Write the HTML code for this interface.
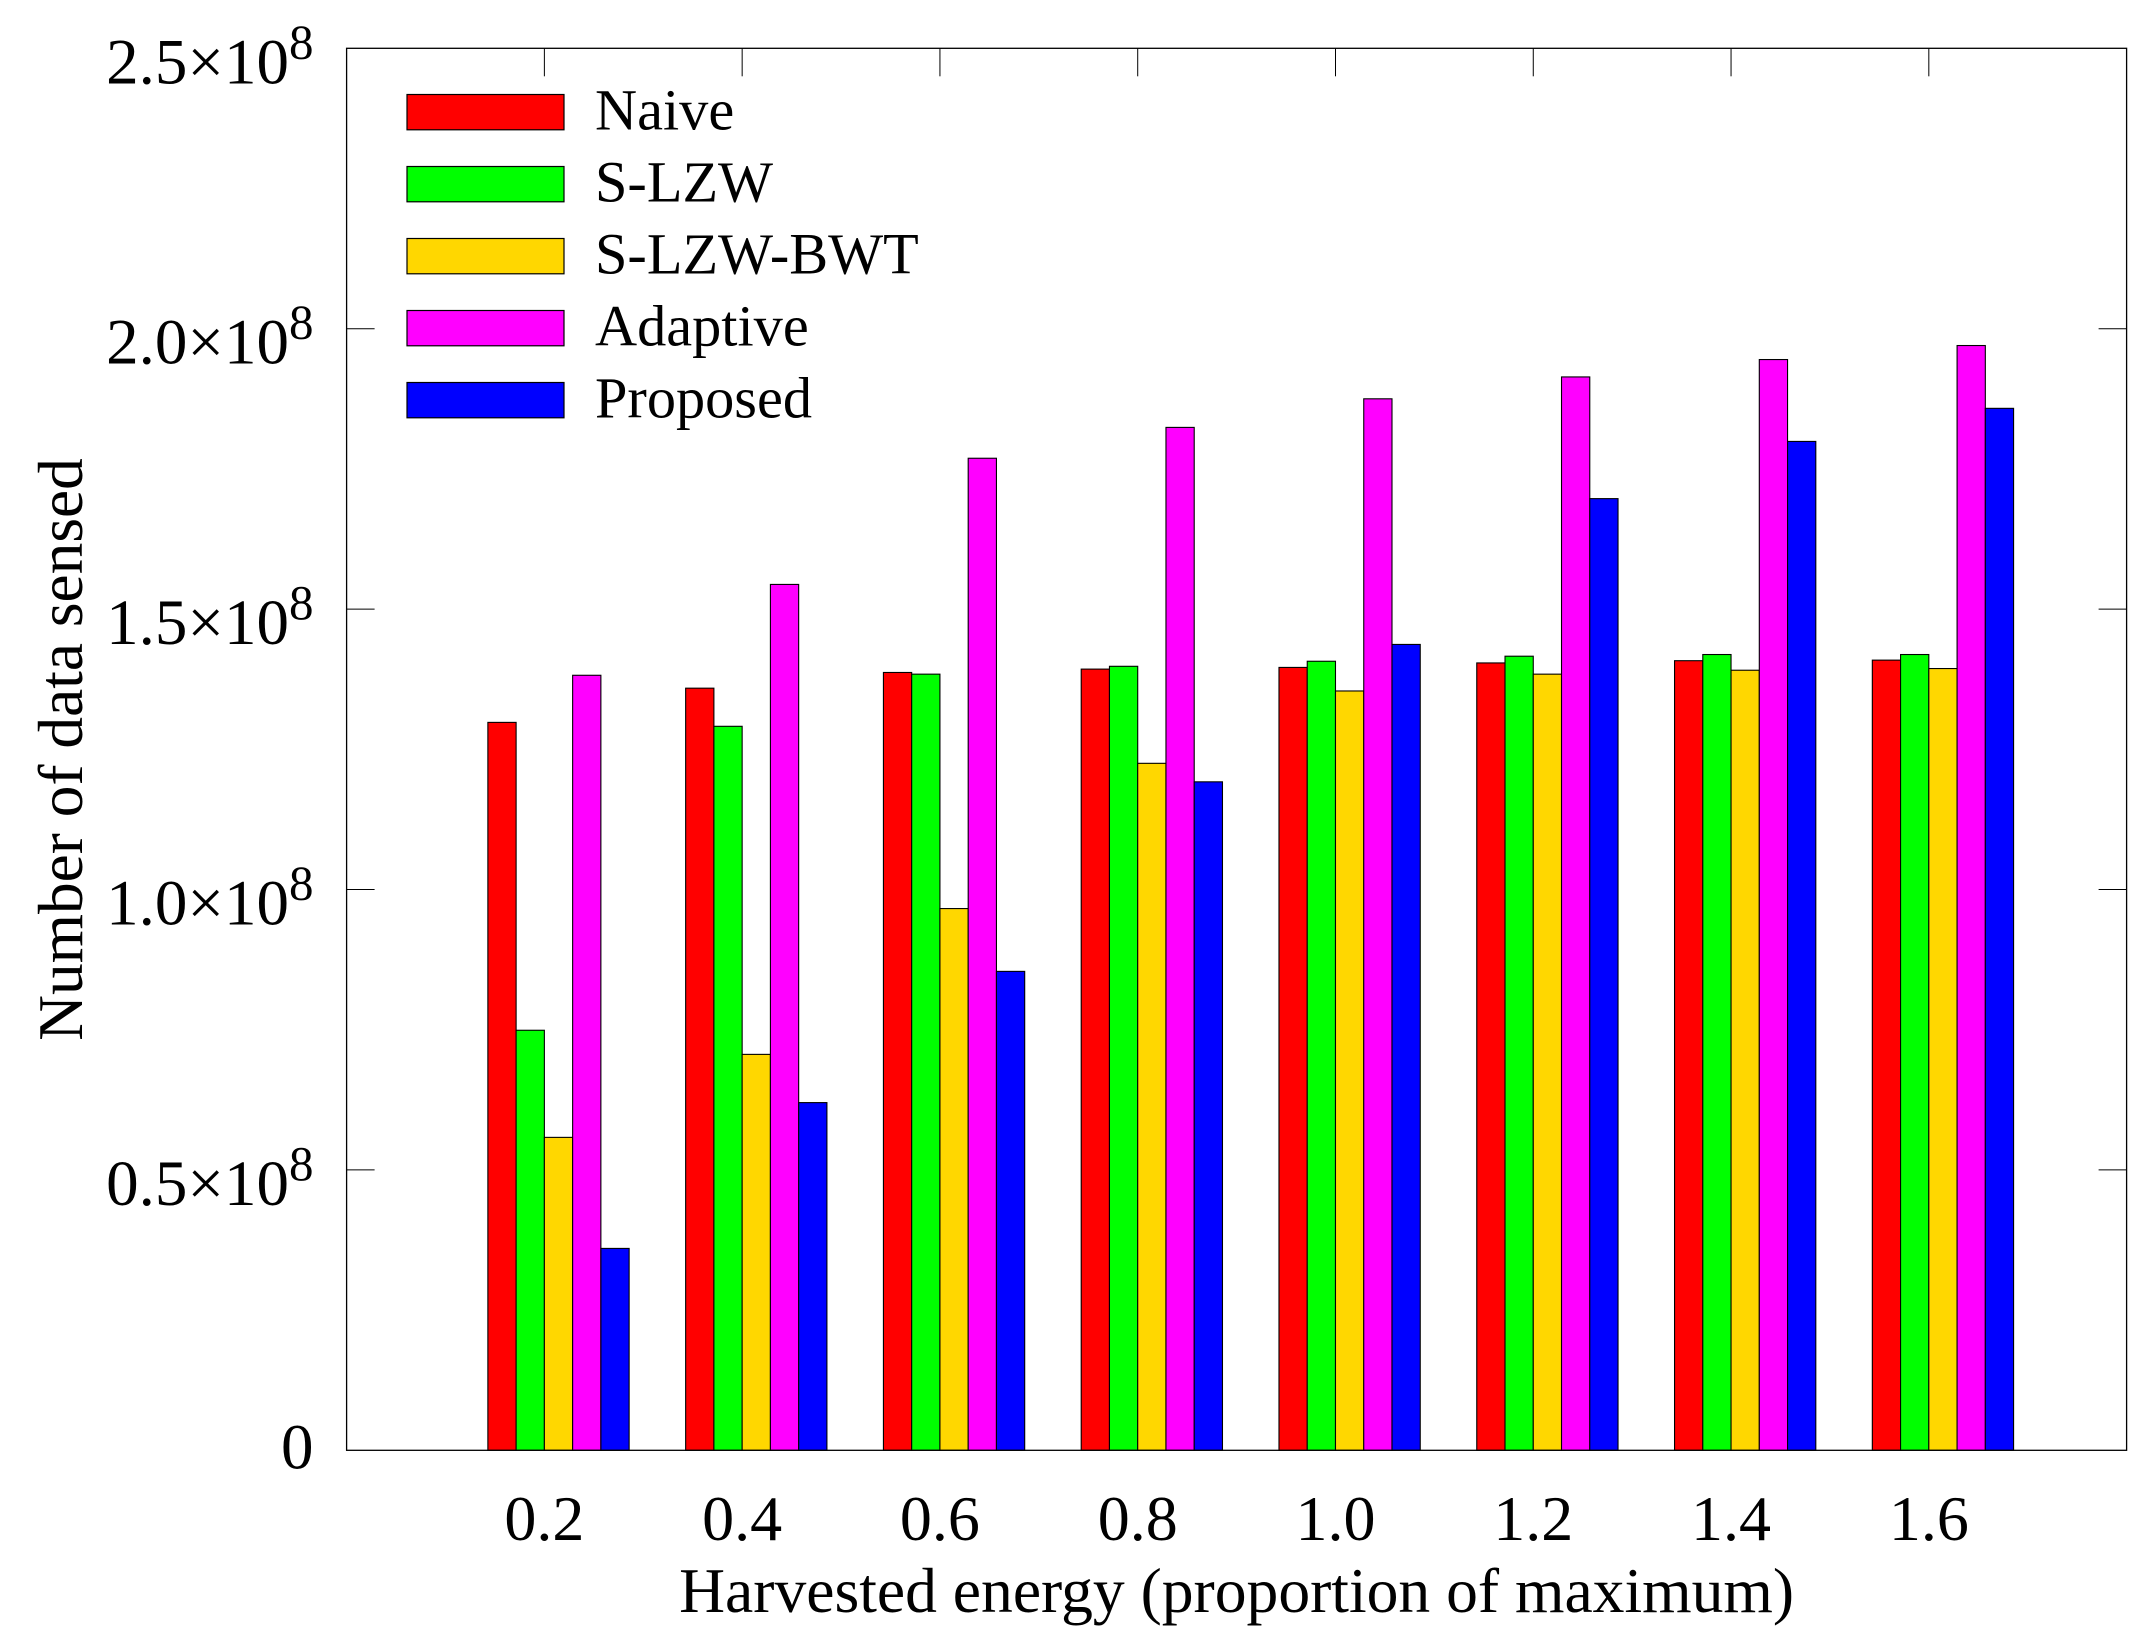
<!DOCTYPE html>
<html lang="en">
<head>
<meta charset="utf-8">
<title>Number of data sensed vs harvested energy</title>
<style>
html,body{margin:0;padding:0;background:#fff;}
svg{display:block;}
text{font-family:"Liberation Serif","Times New Roman",serif;fill:#000;}
</style>
</head>
<body>
<svg id="chart" xmlns="http://www.w3.org/2000/svg" width="2148" height="1644" viewBox="0 0 2148 1644">
  <rect x="0" y="0" width="2148" height="1644" fill="#ffffff"/>
  <g id="ticks"></g>
  <g id="bars"></g>
  <rect x="346.6" y="48.3" width="1780" height="1402" fill="none" stroke="#000" stroke-width="1.3"/>
  <g id="y-labels"></g>
  <g id="x-labels"></g>
  <text x="1236.6" y="1612" font-size="63.6" text-anchor="middle">Harvested energy (proportion of maximum)</text>
  <text transform="translate(82 749.5) rotate(-90)" font-size="63.4" text-anchor="middle">Number of data sensed</text>
  <g id="legend"></g>
</svg>
<script>
var categories = ['0.2', '0.4', '0.6', '0.8', '1.0', '1.2', '1.4', '1.6'];
var seriesNames = ['Naive', 'S-LZW', 'S-LZW-BWT', 'Adaptive', 'Proposed'];
var naive = [1.298e8, 1.359e8, 1.387e8, 1.393e8, 1.396e8, 1.404e8, 1.408e8, 1.409e8];
var sLzw = [0.749e8, 1.291e8, 1.384e8, 1.398e8, 1.407e8, 1.416e8, 1.419e8, 1.419e8];
var sLzwBwt = [0.558e8, 0.706e8, 0.966e8, 1.225e8, 1.354e8, 1.384e8, 1.391e8, 1.394e8];
var adaptive = [1.382e8, 1.544e8, 1.769e8, 1.824e8, 1.875e8, 1.914e8, 1.945e8, 1.970e8];
var proposed = [0.360e8, 0.620e8, 0.854e8, 1.192e8, 1.437e8, 1.697e8, 1.799e8, 1.858e8];
var yTickValues = [0, 0.5e8, 1.0e8, 1.5e8, 2.0e8, 2.5e8];
var yTickLabels = ['0', '0.5', '1.0', '1.5', '2.0', '2.5'];

var allSeries = [naive, sLzw, sLzwBwt, adaptive, proposed];
var colors = ['#ff0000', '#00ff00', '#ffd700', '#ff00ff', '#0000ff'];
var seriesSlugs = ['naive', 's-lzw', 's-lzw-bwt', 'adaptive', 'proposed'];

var NS = 'http://www.w3.org/2000/svg';
var plotLeft = 346.6, plotRight = 2126.6, plotTop = 48.3, plotBottom = 1450.3;
var yMax = 2.5e8, xSlots = categories.length + 1, barsPerGroup = allSeries.length + 2;
var tickLen = 28;

function xScale(v) { return plotLeft + v * (plotRight - plotLeft) / xSlots; }
function yScale(v) { return plotBottom - v * (plotBottom - plotTop) / yMax; }

function make(tag, attrs, parent) {
  var el = document.createElementNS(NS, tag);
  for (var k in attrs) el.setAttribute(k, attrs[k]);
  parent.appendChild(el);
  return el;
}

var tickGroup = document.getElementById('ticks');
var barGroup = document.getElementById('bars');
var yLabelGroup = document.getElementById('y-labels');
var xLabelGroup = document.getElementById('x-labels');
var legendGroup = document.getElementById('legend');

categories.forEach(function (cat, i) {
  var x = xScale(i + 1);
  var top = make('line', {x1: x, x2: x, y1: plotTop, y2: plotTop + tickLen, stroke: '#000', 'stroke-width': 1}, tickGroup);
  
  
  var bot = make('line', {x1: x, x2: x, y1: plotBottom, y2: plotBottom - tickLen, stroke: '#000', 'stroke-width': 1}, tickGroup);
  
  
  var label = make('text', {x: x, y: 1540, 'font-size': 64, 'text-anchor': 'middle'}, xLabelGroup);
  
  
  label.textContent = cat;
});

yTickValues.forEach(function (v, i) {
  var y = yScale(v);
  if (i > 0 && i < yTickValues.length - 1) {
    var left = make('line', {x1: plotLeft, x2: plotLeft + tickLen, y1: y, y2: y, stroke: '#000', 'stroke-width': 1}, tickGroup);
    
    
    var right = make('line', {x1: plotRight, x2: plotRight - tickLen, y1: y, y2: y, stroke: '#000', 'stroke-width': 1}, tickGroup);
    
    
  }
  if (v === 0) {
    var zero = make('text', {x: 313.5, y: y + 18, 'font-size': 65, 'text-anchor': 'end'}, yLabelGroup);
    
    
    zero.textContent = yTickLabels[i];
  } else {
    var lab = make('text', {x: 313.5, y: y + 35, 'font-size': 65, 'text-anchor': 'end'}, yLabelGroup);
    
    
    lab.appendChild(document.createTextNode(yTickLabels[i] + '\u00d710'));
    var sup = make('tspan', {'font-size': 49, dy: -25}, lab);
    sup.textContent = '8';
  }
});

allSeries.forEach(function (values, s) {
  values.forEach(function (v, i) {
    var x0 = xScale(i + 1 + (s - 2) / barsPerGroup);
    var x1 = xScale(i + 1 + (s - 1) / barsPerGroup);
    var y = yScale(v);
    var bar = make('rect', {x: x0, y: y, width: x1 - x0, height: plotBottom - y, fill: colors[s], stroke: '#000', 'stroke-width': 1.1}, barGroup);
    
    
  });
});

seriesNames.forEach(function (name, s) {
  var top = 94.5 + s * 72;
  var swatch = make('rect', {x: 407, y: top, width: 157, height: 35.3, fill: colors[s], stroke: '#000', 'stroke-width': 1.2}, legendGroup);
  
  
  var label = make('text', {x: 595, y: top + 35, 'font-size': 58.3}, legendGroup);
  
  
  label.textContent = name;
});
</script>
</body>
</html>
